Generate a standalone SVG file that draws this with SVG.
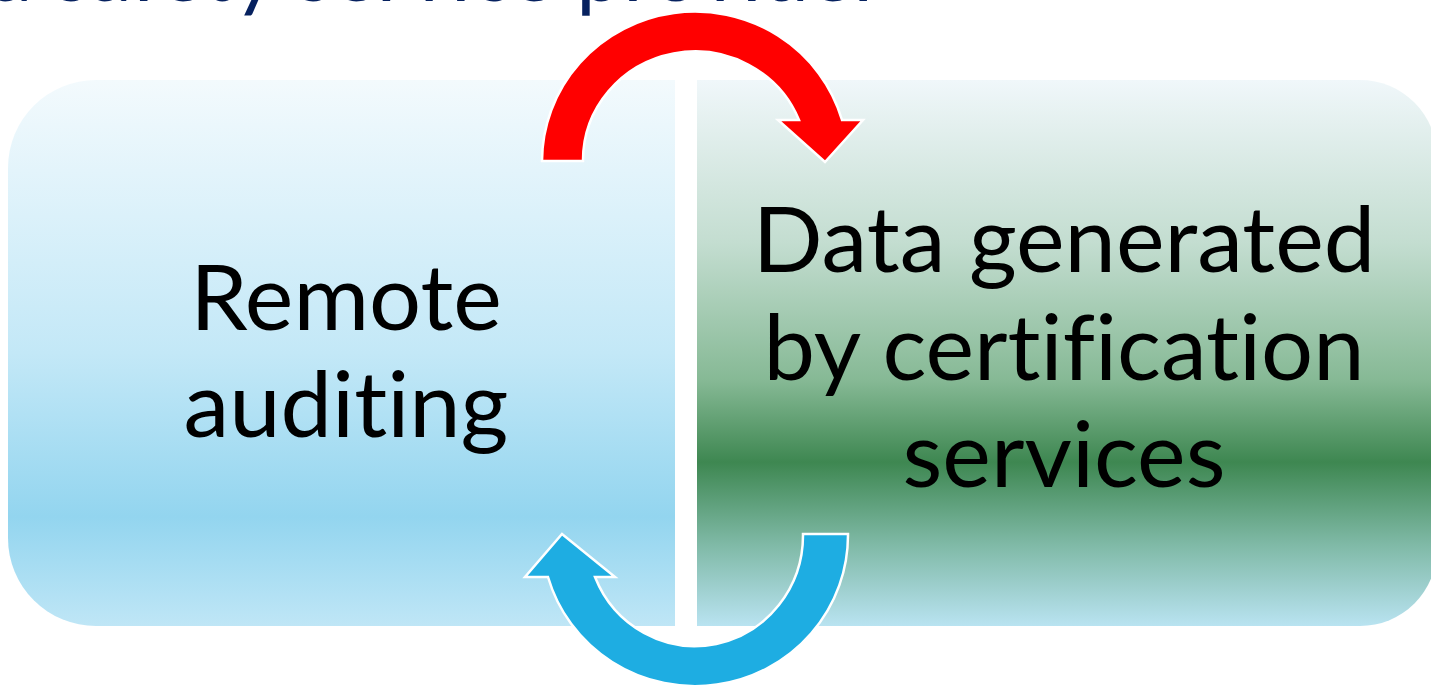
<svg xmlns="http://www.w3.org/2000/svg" width="1431" height="685" viewBox="0 0 1431 685">
  <style>
    .lbl { font-family: Lato, "Noto Sans", "Liberation Sans", sans-serif; font-size: 92px; fill: #000; text-anchor: middle; font-variant-ligatures: none; }
    .title { font-family: Lato, "Noto Sans", "Liberation Sans", sans-serif; font-size: 84px; fill: #06215f; font-variant-ligatures: none; }
    .arrow { stroke: #ffffff; stroke-width: 2.5; stroke-linejoin: miter; }
  </style>
  <defs>
    <linearGradient id="gLeft" x1="0" y1="80" x2="0" y2="626" gradientUnits="userSpaceOnUse">
      <stop offset="0" stop-color="#f3fafd"/>
      <stop offset="0.5" stop-color="#c3e8f7"/>
      <stop offset="0.8" stop-color="#93d5ef"/>
      <stop offset="1" stop-color="#bfe6f6"/>
    </linearGradient>
    <linearGradient id="gRight" x1="0" y1="80" x2="0" y2="626" gradientUnits="userSpaceOnUse">
      <stop offset="0" stop-color="#f0f7fa"/>
      <stop offset="0.3" stop-color="#c3ddd0"/>
      <stop offset="0.55" stop-color="#86b995"/>
      <stop offset="0.7" stop-color="#3e8751"/>
      <stop offset="0.85" stop-color="#7fb9a6"/>
      <stop offset="1" stop-color="#b9e3f1"/>
    </linearGradient>
  </defs>

  <text class="title" x="884" y="1" text-anchor="end">a safety service provider</text>

  <g id="node-remote-auditing">
    <path d="M96,80 H675 V626 H96 A88,88 0 0 1 8,538 V168 A88,88 0 0 1 96,80 Z" fill="url(#gLeft)"/>
    <text class="lbl" x="346" y="330">Remote</text>
    <text class="lbl" x="346" y="437">auditing</text>
  </g>

  <g id="node-data-generated">
    <path d="M697,80 H1360 A77,77 0 0 1 1437,157 V549 A77,77 0 0 1 1360,626 H697 Z" fill="url(#gRight)"/>
    <text class="lbl" x="1064" y="272">Data generated</text>
    <text class="lbl" x="1064" y="380">by certification</text>
    <text class="lbl" x="1064" y="487">services</text>
  </g>

  <g id="connectors">
    <path class="arrow" fill="#ff0000" d="M542,161 A153,150 0 0 1 842,120 L863,120 L825,162 L778,120 L799,120 A112,109 0 0 0 583,161 Z"/>
    <path class="arrow" fill="#1eade2" d="M803,534 L848,534 A153,151 0 0 1 548,577 L525,577 L562,534 L615,577 L595,577 A108,111 0 0 0 803,534 Z"/>
  </g>
</svg>
